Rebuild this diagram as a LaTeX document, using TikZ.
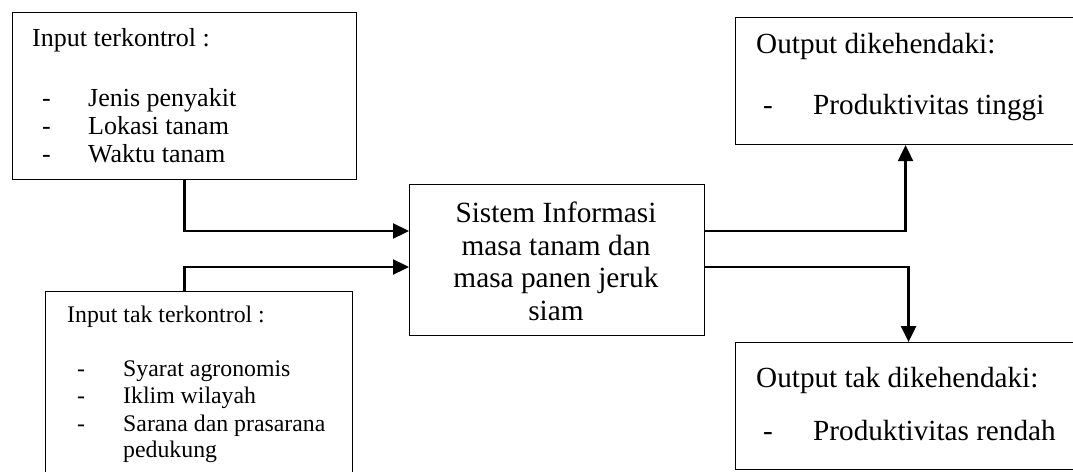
\documentclass[tikz,border=0pt]{standalone}
\usepackage{fontspec}
\setmainfont{Liberation Serif}
\usetikzlibrary{arrows.meta}
\begin{document}
\begin{tikzpicture}[x=1pt,y=-1pt,
  box/.style={draw=black, line width=1.1pt, fill=white, inner sep=0pt, anchor=north west},
  conn/.style={line width=2.3pt, -{Triangle[length=16pt,width=15pt]}},
  ta/.style={anchor=base west, inner sep=0pt, font=\fontsize{26}{28}\selectfont},
  tb/.style={anchor=base west, inner sep=0pt, font=\fontsize{23.8}{27}\selectfont},
  tc/.style={anchor=base, inner sep=0pt, font=\fontsize{29.3}{33}\selectfont},
  to/.style={anchor=base west, inner sep=0pt, font=\fontsize{29.2}{33}\selectfont}]
\useasboundingbox (0,0) rectangle (1073,471);
\clip (0,0) rectangle (1073,471);
\fill[white] (0,0) rectangle (1073,471);
% boxes
\node[box, minimum width=344pt, minimum height=167pt] (A) at (12,12) {};
\node[box, minimum width=307pt, minimum height=200pt] (B) at (45,291) {};
\node[box, minimum width=295pt, minimum height=151pt] (E) at (409,184) {};
\node[box, minimum width=340pt, minimum height=127pt] (C) at (735,17) {};
\node[box, minimum width=346pt, minimum height=127pt] (D) at (735,342) {};
% box A text
\node[ta] (a0) at (32,46) {Input terkontrol :};
\node[ta] (a1d) at (42,106) {-};
\node[ta] (a1) at (88,106) {Jenis penyakit};
\node[ta] (a2d) at (42,134) {-};
\node[ta] (a2) at (88,134) {Lokasi tanam};
\node[ta] (a3d) at (42,162) {-};
\node[ta] (a3) at (88,162) {Waktu tanam};
% box B text
\node[tb] (b0) at (67,322) {Input tak terkontrol :};
\node[tb] (b1d) at (77,376) {-};
\node[tb] (b1) at (123,376) {Syarat agronomis};
\node[tb] (b2d) at (77,403) {-};
\node[tb] (b2) at (123,403) {Iklim wilayah};
\node[tb] (b3d) at (77,431) {-};
\node[tb] (b3) at (123,431) {Sarana dan prasarana};
\node[tb] (b4) at (123,457) {pedukung};
% center text
\node[tc] (e1) at (556,222) {Sistem Informasi};
\node[tc] (e2) at (556,255) {masa tanam dan};
\node[tc] (e3) at (556,287) {masa panen jeruk};
\node[tc] (e4) at (556,320) {siam};
% output C
\node[to] (c0) at (756,53) {Output dikehendaki:};
\node[to] (c1d) at (763,114) {-};
\node[to] (c1) at (813,114) {Produktivitas tinggi};
% output D
\node[to] (d0) at (756,387) {Output tak dikehendaki:};
\node[to] (d1d) at (763,440) {-};
\node[to] (d1) at (813,440) {Produktivitas rendah};
% connectors
\coordinate (i1) at (409,231);
\coordinate (i2) at (409,267);
\coordinate (o1) at (704,231);
\coordinate (o2) at (704,267);
\draw[conn] (A.south) |- (i1);
\draw[conn] (B.north -| A.south) |- (i2);
\draw[conn] (o1) -| (C.south);
\draw[conn] (o2) -| (D.north);
\end{tikzpicture}
\end{document}
